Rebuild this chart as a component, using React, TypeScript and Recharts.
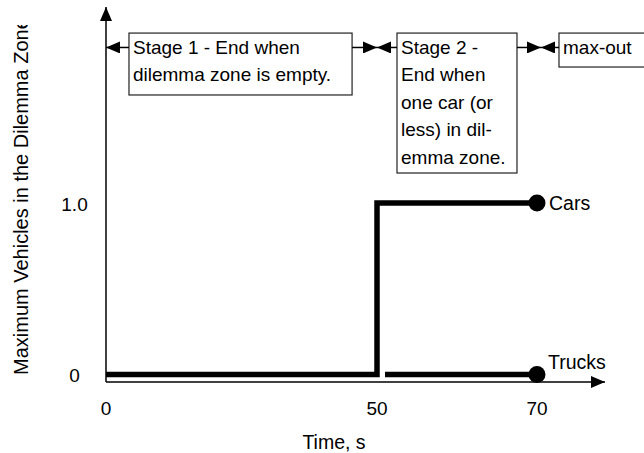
import React from "react";
import {
  ComposedChart,
  Line,
  XAxis,
  YAxis,
  ReferenceArea,
  ReferenceLine,
  Label,
} from "recharts";

const FONT = '"Liberation Sans", Arial, sans-serif';

// series
const carsTime = [0, 50, 70];
const carsCount = [0, 1, 1];
const trucksTime = [51, 70];
const trucksCount = [0, 0];

// axes
const timeTicks = [0, 50, 70];
const countTicks = [0, 1];
const countLabels = ["0", "1.0"];

// stage annotations (time units / vehicle units)
const stageNames = [
  ["Stage 1 - End when", "dilemma zone is empty."],
  ["Stage 2 -", "End when", "one car (or", "less) in dil-", "emma zone."],
  ["max-out"],
];
const stageStart = [4.24, 52.5, 72.75];
const stageEnd = [45.4, 67.5, 90];
const stageBottom = [1.63, 1.175, 1.793];
const stageTop = 1.991;
const stageBounds = [0, 50, 70.5];
const arrowLevel = 1.907;

const carsData = carsTime.map((t, i) => ({ t, v: carsCount[i] }));
const trucksData = trucksTime.map((t, i) => ({ t, v: trucksCount[i] }));

// the time axis is drawn schematically: 0-50 is squeezed compared to 50-70
const KNOTS = [0, 50, 70, 78.5];
const KNOT_POS = [0, 0.5431, 0.8637, 1];

function makeTimeScale(): any {
  let dom = [0, 1];
  let rng = [0, 1];
  const frac = (v: number) => {
    let i = 0;
    while (i < KNOTS.length - 2 && v > KNOTS[i + 1]) i++;
    const f = (v - KNOTS[i]) / (KNOTS[i + 1] - KNOTS[i]);
    return KNOT_POS[i] + f * (KNOT_POS[i + 1] - KNOT_POS[i]);
  };
  const scale: any = (v: number) => rng[0] + frac(Number(v)) * (rng[1] - rng[0]);
  scale.domain = (d?: number[]) => {
    if (!d) return dom.slice();
    dom = d.slice();
    return scale;
  };
  scale.range = (r?: number[]) => {
    if (!r) return rng.slice();
    rng = r.slice();
    return scale;
  };
  scale.copy = () => makeTimeScale().domain(dom).range(rng);
  scale.ticks = () => timeTicks.slice();
  scale.tickFormat = () => (v: number) => String(v);
  return scale;
}

const timeScale = makeTimeScale();

const endDot = (name: string, len: number, labelDx: number, labelDy: number) => (p: any) => {
  if (p.index !== len - 1) return <g key={`d-${name}-${p.index}`} />;
  return (
    <g key={`d-${name}-${p.index}`}>
      <circle cx={p.cx} cy={p.cy} r={8.5} fill="#000" />
      <text
        x={p.cx + labelDx}
        y={p.cy + labelDy}
        fontFamily={FONT}
        fontSize={19.5}
        fill="#000"
      >
        {name}
      </text>
    </g>
  );
};

const stageBox = (lines: string[]) => (p: any) => (
  <g>
    <rect
      x={p.x}
      y={p.y}
      width={p.width}
      height={p.height}
      fill="#fff"
      stroke="#222"
      strokeWidth={1.2}
    />
    {lines.map((s, i) => (
      <text
        key={i}
        x={p.x + 4}
        y={p.y + 20.5 + i * 27.5}
        fontFamily={FONT}
        fontSize={19}
        fill="#000"
      >
        {s}
      </text>
    ))}
  </g>
);

const yTitle = (p: any) => {
  const vb = p.viewBox || { x: 0, y: 7, width: 106, height: 375 };
  const x = vb.x + 28;
  const y = vb.y + vb.height - 7;
  return (
    <g clipPath="url(#ytitleclip)">
      <text
        x={x}
        y={y}
        transform={`rotate(-90 ${x} ${y})`}
        fontFamily={FONT}
        fontSize={20}
        fill="#000"
      >
        Maximum Vehicles in the Dilemma Zone
      </text>
    </g>
  );
};

const xTitle = (p: any) => {
  const vb = p.viewBox || { x: 106, y: 382, width: 499, height: 71 };
  return (
    <text
      x={vb.x + vb.width / 2 - 21.5}
      y={vb.y + 67}
      textAnchor="middle"
      fontFamily={FONT}
      fontSize={19.5}
      fill="#000"
    >
      Time, s
    </text>
  );
};

export default function App() {
  return (
    <div style={{ position: "absolute", left: 0, top: 0, background: "#fff" }}>
      <ComposedChart
        width={644}
        height={453}
        margin={{ top: 7, right: 39, bottom: 0, left: 0 }}
        style={{ background: "#fff" }}
      >
        <defs>
          <marker
            id="arrowHead"
            viewBox="0 0 14 12"
            markerWidth={14}
            markerHeight={12}
            refX={14}
            refY={6}
            markerUnits="userSpaceOnUse"
            orient="auto-start-reverse"
          >
            <path d="M0,0 L14,6 L0,12 Z" fill="#000" />
          </marker>
          <clipPath id="ytitleclip">
            <rect x={0} y={25} width={60} height={400} />
          </clipPath>
        </defs>
        <XAxis
          type="number"
          dataKey="t"
          scale={timeScale}
          domain={[0, 78.5]}
          ticks={timeTicks}
          interval={0}
          height={71}
          tickLine={false}
          tickSize={0}
          tickMargin={33}
          axisLine={{ stroke: "#000", strokeWidth: 1.5, markerEnd: "url(#arrowHead)" }}
          tick={(p: any) => (
            <text
              x={p.x}
              y={p.y}
              textAnchor="middle"
              fontFamily={FONT}
              fontSize={19}
              fill="#000"
            >
              {p.payload.value}
            </text>
          )}
        >
          <Label content={xTitle} />
        </XAxis>
        <YAxis
          type="number"
          domain={[-0.0437, 2.143]}
          ticks={countTicks}
          interval={0}
          width={106}
          tickLine={false}
          tickSize={0}
          tickMargin={31.5}
          axisLine={{ stroke: "#000", strokeWidth: 1.5, markerStart: "url(#arrowHead)" }}
          tick={(p: any) => (
            <text
              x={p.x}
              y={p.y + 7.5}
              textAnchor="middle"
              fontFamily={FONT}
              fontSize={19}
              fill="#000"
            >
              {countLabels[countTicks.indexOf(p.payload.value)]}
            </text>
          )}
        >
          <Label content={yTitle} />
        </YAxis>

        {stageNames.map((lines, i) => (
          <ReferenceArea
            key={`box-${i}`}
            x1={stageStart[i]}
            x2={stageEnd[i]}
            y1={stageBottom[i]}
            y2={stageTop}
            ifOverflow="visible"
            shape={stageBox(lines)}
          />
        ))}
        {stageNames.map((_, i) => (
          <ReferenceLine
            key={`al-${i}`}
            segment={[
              { x: stageStart[i], y: arrowLevel },
              { x: stageBounds[i], y: arrowLevel },
            ]}
            stroke="#000"
            strokeWidth={1.5}
            markerEnd="url(#arrowHead)"
            ifOverflow="visible"
          />
        ))}
        {stageNames.slice(0, 2).map((_, i) => (
          <ReferenceLine
            key={`ar-${i}`}
            segment={[
              { x: stageEnd[i], y: arrowLevel },
              { x: stageBounds[i + 1], y: arrowLevel },
            ]}
            stroke="#000"
            strokeWidth={1.5}
            markerEnd="url(#arrowHead)"
            ifOverflow="visible"
          />
        ))}

        <Line
          data={carsData}
          dataKey="v"
          type="stepAfter"
          stroke="#000"
          strokeWidth={5.5}
          dot={endDot("Cars", carsData.length, 12, 7)}
          activeDot={false}
          isAnimationActive={false}
        />
        <Line
          data={trucksData}
          dataKey="v"
          type="linear"
          stroke="#000"
          strokeWidth={5.5}
          dot={endDot("Trucks", trucksData.length, 11, -6)}
          activeDot={false}
          isAnimationActive={false}
        />
      </ComposedChart>
    </div>
  );
}
